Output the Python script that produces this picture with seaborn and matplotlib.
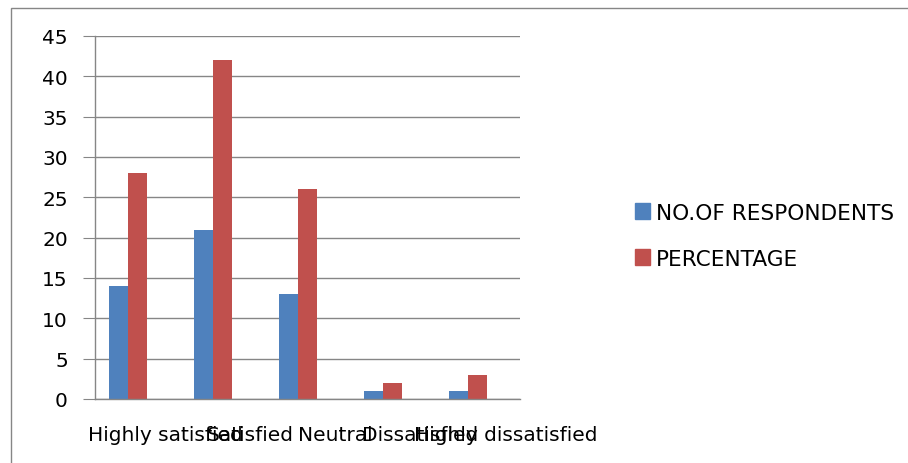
import pandas as pd
import numpy as np
import matplotlib.pyplot as plt
import matplotlib.patches as mpatches
import matplotlib.transforms as mtransforms
import seaborn as sns

# data
categories = ["Highly satisfied", "Satisfied", "Neutral", "Dissatisfied", "Highly dissatisfied"]
respondents = [14, 21, 13, 1, 1]
percentage = [28, 42, 26, 2, 3]
blank = [0, 0, 0, 0, 0]  # empty third series in the original sheet (keeps bar spacing)
yticks = [0, 5, 10, 15, 20, 25, 30, 35, 40, 45]

series = ["NO.OF RESPONDENTS", "PERCENTAGE", "blank"]
colors = ["#4F81BD", "#C0504D", "#FFFFFF"]

df = pd.DataFrame({
    "category": categories * 3,
    "value": respondents + percentage + blank,
    "series": [series[0]] * 5 + [series[1]] * 5 + [series[2]] * 5,
})

sns.set_style("white")
plt.rcParams["font.family"] = ["DejaVu Sans"]
plt.rcParams["text.color"] = "black"

fig = plt.figure(figsize=(9.08, 4.64), dpi=100)
ax = fig.add_axes([95 / 908, 1 - 400 / 464, 425 / 908, 363 / 464])

sns.barplot(data=df, x="category", y="value", hue="series", hue_order=series,
            order=categories, palette=colors, width=0.667, linewidth=0,
            saturation=1, legend=False, ax=ax)

ax.set_xlim(-0.5, 4.5)
ax.set_ylim(0, 45)
ax.set_yticks(yticks)
ax.set_xlabel("")
ax.set_ylabel("")
ax.yaxis.grid(True, color="#868686", linewidth=1)
ax.set_axisbelow(True)

for side in ["top", "right"]:
    ax.spines[side].set_visible(False)
for side in ["left", "bottom"]:
    ax.spines[side].set_color("#868686")
    ax.spines[side].set_linewidth(1)

ax.set_xticks(np.arange(-0.5, 5, 1), minor=True)
ax.tick_params(axis="x", which="major", length=0, pad=19, labelsize=14.5, labelcolor="black")
ax.tick_params(axis="x", which="minor", length=8, color="#868686", direction="out")
ax.tick_params(axis="y", length=9, color="#868686", direction="out", left=True, pad=10.5,
               labelsize=14.5, labelcolor="black")

# category labels sit a bit right of the group centres in the original
shift = mtransforms.ScaledTranslation(0.28, 0, fig.dpi_scale_trans)
for lbl in ax.get_xticklabels():
    lbl.set_transform(lbl.get_transform() + shift)

handles = [mpatches.Patch(color=colors[0], label=series[0]),
           mpatches.Patch(color=colors[1], label=series[1])]
fig.legend(handles=handles, loc="center left", bbox_to_anchor=(635 / 908, 0.49),
           frameon=False, fontsize=15.6, handlelength=0.7, handleheight=0.7,
           handletextpad=0.25, labelspacing=1.2, borderpad=0, borderaxespad=0,
           labelcolor="black")

# outer chart border (left and top edges visible in the crop)
fig.add_artist(mpatches.Rectangle((11 / 908, -0.1), 1.2, 1 - 9 / 464 + 0.1,
                                  transform=fig.transFigure, fill=False,
                                  edgecolor="#868686", linewidth=1))

fig.savefig("out.png", dpi=100)
